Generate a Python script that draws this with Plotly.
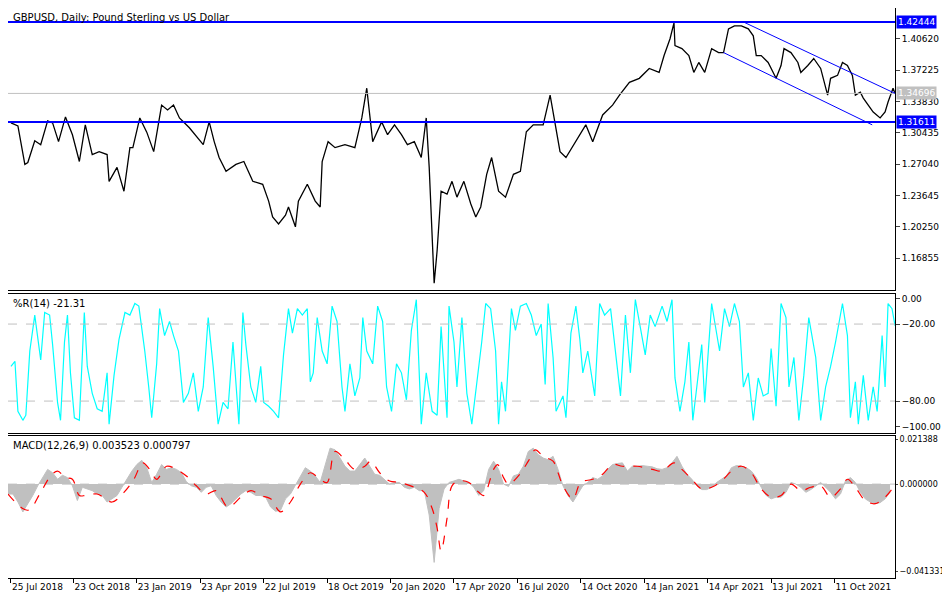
import plotly.graph_objects as go

# GBPUSD daily, bar index from 25 Jul 2018
bar = [0, 7, 14, 17, 24, 30, 37, 42, 48, 55, 62, 69, 75, 82, 89, 97, 99, 107, 114, 120, 123, 130, 137, 144,
       152, 158, 164, 170, 180, 187, 194, 200, 205, 210, 217, 227, 235, 244, 254, 260, 264, 270, 277, 280, 287,
       290, 299, 307, 312, 314, 320, 327, 337, 347, 354, 359, 365, 374, 380, 387, 394, 400, 407, 414, 419, 422,
       425, 427, 430, 434, 440, 445, 450, 457, 464, 469, 474, 480, 485, 492, 499, 507, 514, 520, 527, 537, 544,
       549, 554, 560, 570, 580, 587, 597, 607, 614, 624, 634, 644, 654, 659, 665, 669, 670, 677, 684, 689, 694,
       700, 707, 714, 719, 724, 730, 737, 744, 749, 752, 757, 764, 772, 777, 780, 787, 794, 797, 804, 810, 817,
       824, 827, 834, 839, 844, 849, 852, 857, 860, 865, 870, 877, 882, 885, 890, 892]
close = [1.3150, 1.3118, 1.2700, 1.2721, 1.2957, 1.2914, 1.3172, 1.3150, 1.2947, 1.3215, 1.3022, 1.2732,
         1.3129, 1.2807, 1.2839, 1.2807, 1.2517, 1.2668, 1.2410, 1.2882, 1.2882, 1.3204, 1.3050, 1.2839,
         1.3343, 1.3290, 1.3343, 1.3204, 1.3097, 1.3000, 1.2914, 1.3161, 1.2950, 1.2775, 1.2625, 1.2700,
         1.2732, 1.2517, 1.2485, 1.2303, 1.2131, 1.2056, 1.2150, 1.2239, 1.2024, 1.2303, 1.2485, 1.2303,
         1.2239, 1.2732, 1.2947, 1.2882, 1.2914, 1.2882, 1.3204, 1.3526, 1.2947, 1.3161, 1.3022, 1.3129,
         1.3022, 1.2914, 1.2947, 1.2775, 1.3204, 1.2668, 1.1949, 1.1413, 1.1767, 1.2410, 1.2378, 1.2517,
         1.2346, 1.2517, 1.2271, 1.2131, 1.2239, 1.2593, 1.2775, 1.2410, 1.2346, 1.2593, 1.2625, 1.3054,
         1.3129, 1.3129, 1.3451, 1.3129, 1.2839, 1.2775, 1.2947, 1.3129, 1.2947, 1.3236, 1.3343, 1.3451,
         1.3590, 1.3633, 1.3740, 1.3697, 1.3880, 1.4062, 1.4234, 1.3987, 1.3955, 1.3880, 1.3697, 1.3805,
         1.3697, 1.3955, 1.3912, 1.3912, 1.4169, 1.4202, 1.4202, 1.4169, 1.4094, 1.3880, 1.3880, 1.3805,
         1.3633, 1.3772, 1.3955, 1.3912, 1.3805, 1.3697, 1.3772, 1.3848, 1.3740, 1.3451, 1.3633, 1.3665,
         1.3805, 1.3772, 1.3665, 1.3451, 1.3483, 1.3419, 1.3343, 1.3268, 1.3204, 1.3268, 1.3376, 1.3526, 1.3470]

level_hi = 1.42444
level_lo = 1.31611
last_price = 1.34696
chan_upper_bar = [739, 892]
chan_upper = [1.4244, 1.3470]
chan_lower_bar = [719, 869]
chan_lower = [1.3912, 1.3129]

wr_bar = [0, 4, 7, 12, 15, 19, 24, 27, 30, 34, 39, 42, 47, 50, 54, 57, 60, 64, 69, 74, 77, 82, 87, 92, 97, 99,
          104, 109, 115, 120, 125, 129, 132, 135, 139, 142, 147, 150, 155, 160, 164, 169, 174, 179, 184, 189,
          194, 199, 204, 209, 214, 219, 224, 230, 234, 237, 242, 247, 252, 255, 260, 265, 270, 275, 280, 284,
          289, 294, 299, 302, 305, 309, 314, 319, 324, 329, 334, 337, 342, 347, 352, 355, 359, 365, 370, 375,
          379, 384, 389, 394, 399, 404, 409, 414, 419, 425, 430, 434, 440, 442, 447, 450, 455, 460, 465, 470,
          475, 479, 484, 489, 492, 495, 499, 502, 505, 509, 514, 520, 525, 530, 535, 539, 542, 547, 550, 557,
          560, 565, 570, 574, 577, 582, 589, 594, 599, 605, 610, 615, 620, 625, 630, 635, 640, 645, 650, 657,
          662, 667, 670, 675, 680, 684, 688, 692, 697, 700, 707, 710, 715, 720, 725, 730, 735, 739, 744, 749,
          754, 759, 764, 767, 772, 777, 782, 785, 790, 795, 800, 805, 812, 817, 822, 827, 832, 839, 844, 847,
          852, 855, 860, 865, 870, 874, 879, 882, 885, 889, 892]
wr = [-53, -49, -88, -95, -91, -41, -13, -32, -48, -11, -13, -36, -81, -95, -34, -13, -58, -93, -95, -11, -53,
      -74, -86, -88, -58, -98, -60, -32, -11, -13, -4, -6, -22, -41, -69, -93, -51, -8, -29, -18, -29, -41, -81,
      -74, -58, -88, -69, -15, -53, -98, -81, -86, -34, -98, -11, -36, -69, -81, -53, -81, -84, -88, -93, -44,
      -8, -27, -8, -13, -8, -65, -58, -15, -41, -51, -6, -18, -69, -88, -51, -76, -62, -15, -41, -51, -6, -18,
      -69, -88, -51, -58, -79, -25, -1, -98, -58, -88, -91, -22, -93, -6, -34, -69, -15, -74, -98, -67, -34,
      -4, -8, -41, -98, -65, -88, -48, -8, -25, -6, -4, -13, -29, -20, -67, -4, -46, -88, -76, -93, -27, -6,
      -32, -58, -41, -76, -4, -13, -8, -41, -76, -13, -58, -1, -22, -44, -13, -22, -6, -18, -1, -62, -88, -65,
      -34, -95, -69, -36, -81, -4, -18, -41, -8, -22, -4, -18, -69, -58, -95, -62, -76, -74, -39, -84, -4, -15,
      -69, -46, -95, -60, -15, -46, -95, -69, -53, -34, -4, -29, -93, -65, -98, -60, -95, -69, -88, -29, -69,
      -4, -8, -21.31]

macd_bar = list(range(-3, 892, 5))
macd = [-0.0047, -0.0047, -0.0085, -0.0132, -0.0093, -0.0054, -0.0008, 0.0031, 0.0070, 0.0054, 0.0023,
        0.0042, 0.0031, -0.0008, -0.0078, -0.0015, -0.0023, -0.0031, -0.0047, -0.0054, -0.0085, -0.0070,
        -0.0054, -0.0015, 0.0023, 0.0062, 0.0093, 0.0113, 0.0078, 0.0008, 0.0047, 0.0093, 0.0070, 0.0078,
        0.0070, 0.0054, 0.0011, -0.0008, -0.0015, -0.0039, -0.0015, -0.0008, -0.0054, -0.0085, -0.0109,
        -0.0093, -0.0070, -0.0047, -0.0031, -0.0039, -0.0054, -0.0054, -0.0062, -0.0109, -0.0129, -0.0124,
        -0.0070, -0.0047, -0.0005, 0.0039, 0.0078, 0.0062, 0.0039, 0.0008, 0.0085, 0.0171, 0.0163, 0.0124,
        0.0085, 0.0062, 0.0062, 0.0093, 0.0124, 0.0085, 0.0047, 0.0042, 0.0023, 0.0000, 0.0008, 0.0008,
        -0.0015, -0.0023, -0.0015, -0.0031, -0.0031, -0.0147, -0.0372, -0.0116, -0.0023, 0.0008, 0.0015,
        0.0023, 0.0015, 0.0008, -0.0015, -0.0054, -0.0031, 0.0070, 0.0109, 0.0070, 0.0000, -0.0011, 0.0039,
        0.0047, 0.0085, 0.0155, 0.0171, 0.0140, 0.0124, 0.0116, 0.0132, 0.0070, -0.0008, -0.0054, -0.0085,
        -0.0047, -0.0008, 0.0008, 0.0031, 0.0023, 0.0039, 0.0070, 0.0093, 0.0098, 0.0101, 0.0062, 0.0085,
        0.0085, 0.0088, 0.0085, 0.0082, 0.0073, 0.0070, 0.0078, 0.0101, 0.0132, 0.0085, 0.0047, 0.0023,
        -0.0008, -0.0026, -0.0026, -0.0015, 0.0008, 0.0023, 0.0039, 0.0078, 0.0088, 0.0085, 0.0078, 0.0062,
        0.0031, -0.0015, -0.0054, -0.0070, -0.0062, -0.0062, -0.0039, 0.0008, 0.0000, -0.0015, -0.0039,
        -0.0026, -0.0008, 0.0008, -0.0015, -0.0039, -0.0070, -0.0047, 0.0015, 0.0031, 0.0008, -0.0039,
        -0.0070, -0.0085, -0.0093, -0.0088, -0.0070, -0.0039, 0.0008, 0.0039]

sig_bar = [-3, 17, 30, 40, 47, 55, 62, 69, 75, 87, 102, 114, 124, 133, 140, 147, 157, 167, 177, 187, 197, 207,
           219, 232, 242, 252, 262, 272, 282, 292, 302, 312, 319, 327, 337, 347, 357, 363, 372, 382, 392, 407,
           417, 425, 430, 434, 440, 445, 452, 462, 472, 477, 487, 491, 497, 502, 512, 522, 529, 537, 547, 552,
           557, 567, 575, 587, 597, 607, 617, 632, 647, 657, 669, 677, 687, 697, 707, 717, 727, 737, 747, 757,
           767, 777, 787, 797, 807, 817, 827, 837, 844, 852, 862, 872, 882, 889]
signal = [-0.0047, -0.0124, -0.0039, 0.0039, 0.0062, 0.0031, 0.0023, -0.0054, -0.0054, -0.0047, -0.0085,
          -0.0039, 0.0023, 0.0101, 0.0070, 0.0023, 0.0085, 0.0070, 0.0039, -0.0008, -0.0047, -0.0031,
          -0.0109, -0.0062, -0.0031, -0.0054, -0.0070, -0.0132, -0.0085, 0.0000, 0.0054, 0.0023, 0.0008,
          0.0155, 0.0116, 0.0070, 0.0085, 0.0109, 0.0054, 0.0015, 0.0008, -0.0015, -0.0039, -0.0116, -0.0209,
          -0.0318, -0.0163, -0.0008, 0.0015, 0.0008, -0.0039, -0.0054, 0.0070, 0.0093, 0.0031, 0.0000, 0.0039,
          0.0109, 0.0163, 0.0132, 0.0109, 0.0054, -0.0008, -0.0070, 0.0008, 0.0023, 0.0047, 0.0093, 0.0085,
          0.0085, 0.0070, 0.0062, 0.0101, 0.0070, 0.0023, -0.0023, -0.0015, 0.0015, 0.0062, 0.0085, 0.0054,
          -0.0023, -0.0062, -0.0054, 0.0000, -0.0031, -0.0015, -0.0008, -0.0062, -0.0023, 0.0023, -0.0015,
          -0.0078, -0.0093, -0.0062, -0.0023]

tick_bars = [0, 63, 127, 191, 255, 319, 383, 447, 511, 575, 639, 703, 767, 831]
tick_text = ['25 Jul 2018', '23 Oct 2018', '23 Jan 2019', '23 Apr 2019', '22 Jul 2019', '18 Oct 2019',
             '20 Jan 2020', '17 Apr 2020', '16 Jul 2020', '14 Oct 2020', '14 Jan 2021', '14 Apr 2021',
             '13 Jul 2021', '11 Oct 2021']
price_ticks = [1.40620, 1.37225, 1.33830, 1.30435, 1.27040, 1.23645, 1.20250, 1.16855]
wr_ticks = [0, -20, -80, -100]
macd_ticks = [0.021388, 0.0, -0.041331]

font = dict(family="DejaVu Sans", size=10, color="black")
xr = [-3, 892]
fig = go.Figure()

fig.add_trace(go.Scatter(x=bar, y=close, mode="lines", line=dict(color="black", width=1.3),
                         xaxis="x", yaxis="y"))
for yv, col, w in [(level_hi, "#0000ff", 2), (level_lo, "#0000ff", 2), (last_price, "#c0c0c0", 1)]:
    fig.add_trace(go.Scatter(x=xr, y=[yv, yv], mode="lines", line=dict(color=col, width=w),
                             xaxis="x", yaxis="y"))
fig.add_trace(go.Scatter(x=chan_upper_bar, y=chan_upper, mode="lines", line=dict(color="#0000ff", width=1),
                         xaxis="x", yaxis="y"))
fig.add_trace(go.Scatter(x=chan_lower_bar, y=chan_lower, mode="lines", line=dict(color="#0000ff", width=1),
                         xaxis="x", yaxis="y"))

fig.add_trace(go.Scatter(x=wr_bar, y=wr, mode="lines", line=dict(color="#00ffff", width=1.2),
                         xaxis="x2", yaxis="y2"))
for yv in [-20, -80]:
    fig.add_trace(go.Scatter(x=xr, y=[yv, yv], mode="lines", line=dict(color="#c0c0c0", width=1, dash="dash"),
                             xaxis="x2", yaxis="y2"))

fig.add_trace(go.Scatter(x=macd_bar, y=macd, mode="lines", fill="tozeroy", fillcolor="#c0c0c0",
                         line=dict(color="#c0c0c0", width=1), xaxis="x3", yaxis="y3"))
fig.add_trace(go.Scatter(x=xr, y=[0, 0], mode="lines", line=dict(color="#c0c0c0", width=1, dash="dash"),
                         xaxis="x3", yaxis="y3"))
fig.add_trace(go.Scatter(x=sig_bar, y=signal, mode="lines", line=dict(color="red", width=1.2, dash="dash",
                         shape="spline"), xaxis="x3", yaxis="y3"))

ax = dict(range=xr, showline=True, linecolor="black", mirror=True, showgrid=False, zeroline=False,
          tickvals=tick_bars, showticklabels=False, ticks="", automargin=False)
yax = dict(side="right", ticks="outside", ticklen=4, showgrid=False, zeroline=False, automargin=False,
           showline=True, linecolor="black", mirror=True, tickfont=dict(family="DejaVu Sans", size=9))
fig.update_layout(
    width=942, height=592, showlegend=False, plot_bgcolor="white", paper_bgcolor="white",
    margin=dict(l=0, r=55, t=0, b=22), font=font,
    xaxis=dict(ax, anchor="y"),
    xaxis2=dict(ax, anchor="y2", matches="x"),
    xaxis3=dict(ax, anchor="y3", matches="x", showticklabels=True, ticktext=tick_text, ticks="outside",
                ticklen=4, tickcolor="black", tickangle=0, ticklabelposition="outside right",
                tickfont=dict(family="DejaVu Sans", size=9)),
    yaxis=dict(yax, domain=[0.505, 1], range=[1.1338, 1.4395], tickvals=price_ticks, tickformat=".5f"),
    yaxis2=dict(yax, domain=[0.255, 0.498], range=[-104.6, 3.3], tickvals=wr_ticks, tickformat=".2f"),
    yaxis3=dict(yax, domain=[0, 0.25], range=[-0.0446, 0.0231], tickvals=macd_ticks, tickformat=".6f",
                ticklen=2, tickfont=dict(family="DejaVu Sans", size=8)),
)

ann = [("GBPUSD, Daily: Pound Sterling vs US Dollar", 1.0),
       ("%R(14) -21.31", 0.498),
       ("MACD(12,26,9) 0.003523 0.000797", 0.25)]
for txt, yp in ann:
    fig.add_annotation(text=txt, xref="paper", yref="paper", x=0.003, y=yp, xanchor="left", yanchor="top",
                       showarrow=False, font=font, yshift=-2)
for yv, bg in [(level_hi, "#0000ff"), (level_lo, "#0000ff"), (last_price, "#c0c0c0")]:
    fig.add_annotation(text=f"{yv:.5f}", xref="paper", yref="y", x=1, y=yv, xanchor="left", yanchor="middle",
                       showarrow=False, bgcolor=bg, font=dict(family="DejaVu Sans", size=9, color="white"),
                       xshift=1, borderpad=1)

fig.write_html("out.html")
